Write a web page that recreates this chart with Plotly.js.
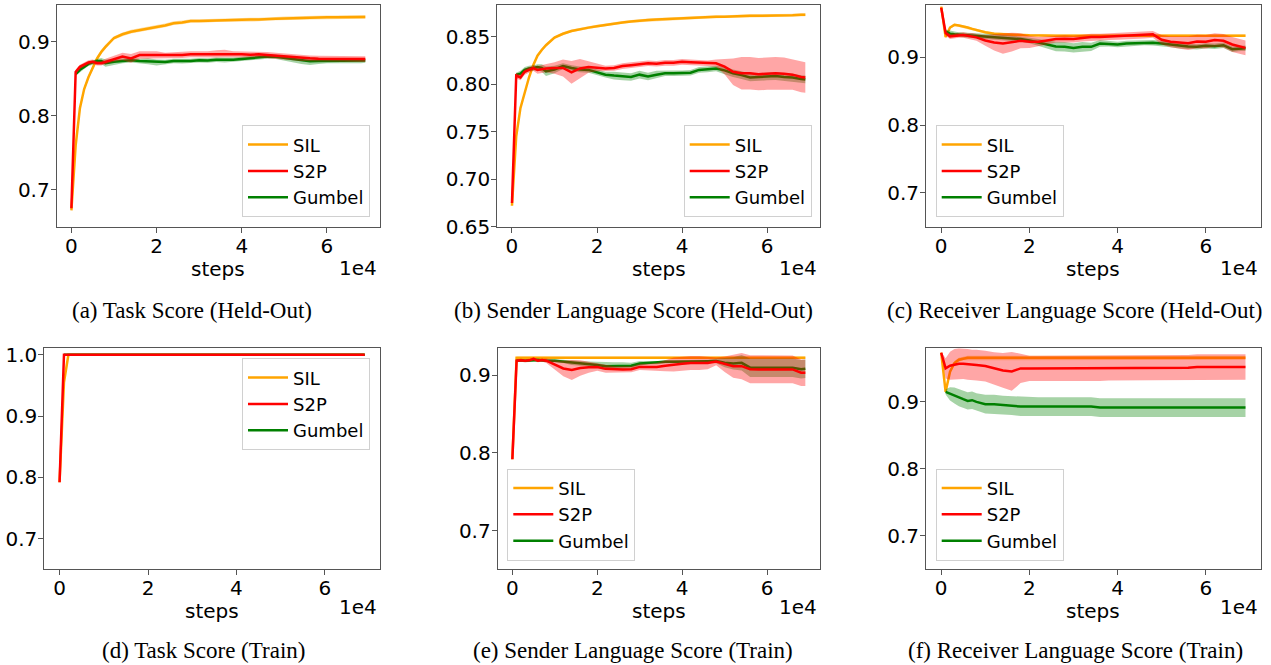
<!DOCTYPE html>
<html><head><meta charset="utf-8">
<script src="https://cdn.plot.ly/plotly-3.0.1.min.js"></script>
<style>html,body{margin:0;padding:0;background:#fff}#chart{width:1271px;height:665px}</style>
</head><body><div id="chart"></div>
<script>
// ---------------- data ----------------
const STEPS = [0,1000,2000,3000,4000,5000,6000,7000,8000,10000,12000,14000,16000,18000,20000,22000,24000,26000,28000,30000,32000,34000,36000,38000,40000,42000,44000,46000,48000,50000,52000,54000,56000,58000,60000,62000,64000,66000,68000,69000];
const SERIES_NAMES = ['SIL','S2P','Gumbel'];
const X_TICK_VALS = [0,20000,40000,60000];
const X_TICK_TEXT = ['0','2','4','6'];

// (a) Task Score (Held-Out)
const A_SIL = [0.672,0.760,0.810,0.836,0.852,0.865,0.877,0.886,0.893,0.905,0.910,0.9135,0.916,0.918,0.920,0.922,0.925,0.926,0.928,0.928,0.9285,0.929,0.929,0.929,0.9295,0.930,0.930,0.931,0.931,0.9315,0.932,0.932,0.9325,0.9325,0.933,0.933,0.933,0.9335,0.9335,0.9335];
const A_SIL_SD = [0.001,0.003,0.003,0.003,0.003,0.003,0.003,0.003,0.003,0.0025,0.0025,0.0025,0.0025,0.0025,0.0025,0.0025,0.0025,0.0025,0.0025,0.0025,0.0025,0.0025,0.0025,0.0025,0.0025,0.0025,0.0025,0.0025,0.0025,0.0025,0.0025,0.0025,0.0025,0.0025,0.0025,0.0025,0.0025,0.0025,0.0025,0.0025];
const A_S2P = [0.675,0.859,0.866,0.8695,0.872,0.873,0.871,0.871,0.873,0.877,0.880,0.8775,0.882,0.882,0.882,0.881,0.882,0.882,0.883,0.883,0.883,0.8835,0.884,0.883,0.883,0.8825,0.883,0.882,0.881,0.880,0.8785,0.878,0.8775,0.877,0.877,0.8765,0.8765,0.8765,0.8765,0.8765];
const A_S2P_SD = [0.001,0.003,0.003,0.003,0.003,0.003,0.003,0.003,0.004,0.004,0.005,0.006,0.005,0.005,0.005,0.004,0.004,0.004,0.004,0.004,0.004,0.005,0.005,0.004,0.004,0.004,0.004,0.004,0.004,0.004,0.004,0.004,0.004,0.004,0.004,0.004,0.004,0.004,0.004,0.004];
const A_GUM = [null,0.856,0.862,0.866,0.870,0.872,0.874,0.874,0.871,0.873,0.874,0.875,0.874,0.8735,0.872,0.8725,0.874,0.8735,0.874,0.875,0.8745,0.8755,0.875,0.8755,0.8765,0.878,0.879,0.880,0.8795,0.878,0.876,0.874,0.8735,0.874,0.874,0.874,0.8745,0.874,0.874,0.8745];
const A_GUM_SD = [null,0.002,0.003,0.003,0.003,0.003,0.003,0.004,0.005,0.004,0.003,0.003,0.003,0.004,0.004,0.003,0.003,0.003,0.003,0.003,0.003,0.003,0.003,0.003,0.003,0.003,0.003,0.003,0.003,0.003,0.004,0.004,0.005,0.004,0.003,0.003,0.003,0.003,0.003,0.003];

// (b) Sender Language Score (Held-Out)
const B_SIL = [0.672,0.745,0.775,0.791,0.807,0.820,0.830,0.836,0.841,0.849,0.853,0.856,0.858,0.8595,0.861,0.8625,0.864,0.865,0.866,0.867,0.8675,0.868,0.8685,0.869,0.869,0.8695,0.870,0.8705,0.871,0.871,0.8715,0.8715,0.872,0.872,0.872,0.8725,0.8725,0.8725,0.873,0.873];
const B_SIL_SD = [0.001,0.0015,0.0015,0.0015,0.0015,0.0015,0.0015,0.0015,0.0015,0.0015,0.0015,0.0015,0.0015,0.0015,0.0015,0.0015,0.0015,0.0015,0.0015,0.0015,0.0015,0.0015,0.0015,0.0015,0.0015,0.0015,0.0015,0.0015,0.0015,0.0015,0.0015,0.0015,0.0015,0.0015,0.0015,0.0015,0.0015,0.0015,0.0015,0.0015];
const B_S2P = [0.675,0.809,0.807,0.813,0.815,0.817,0.815,0.816,0.8165,0.817,0.817,0.8125,0.8165,0.818,0.8175,0.8165,0.817,0.819,0.820,0.821,0.822,0.8215,0.8225,0.8225,0.8235,0.823,0.8225,0.822,0.822,0.8185,0.813,0.8115,0.8115,0.8105,0.811,0.8115,0.811,0.810,0.8075,0.807];
const B_S2P_SD = [0.001,0.003,0.003,0.003,0.003,0.003,0.004,0.004,0.004,0.006,0.009,0.012,0.010,0.006,0.004,0.003,0.003,0.003,0.003,0.003,0.003,0.003,0.003,0.003,0.003,0.003,0.003,0.003,0.004,0.008,0.014,0.017,0.017,0.017,0.017,0.017,0.017,0.016,0.016,0.016];
const B_GUM = [null,0.810,0.811,0.815,0.8165,0.817,0.818,0.817,0.8135,0.8155,0.819,0.817,0.8155,0.815,0.8125,0.810,0.809,0.808,0.8075,0.810,0.808,0.810,0.8115,0.8115,0.8115,0.812,0.815,0.8155,0.8165,0.8145,0.8115,0.8095,0.807,0.8075,0.808,0.8085,0.8075,0.807,0.8055,0.805];
const B_GUM_SD = [null,0.002,0.003,0.003,0.003,0.003,0.003,0.004,0.005,0.004,0.003,0.003,0.003,0.003,0.003,0.003,0.004,0.004,0.004,0.004,0.004,0.004,0.003,0.003,0.003,0.003,0.003,0.003,0.003,0.004,0.004,0.004,0.004,0.004,0.004,0.004,0.004,0.004,0.004,0.004];

// (c) Receiver Language Score (Held-Out)
const C_SIL = [0.975,0.930,0.944,0.948,0.947,0.946,0.944,0.942,0.940,0.937,0.935,0.934,0.933,0.933,0.9325,0.932,0.932,0.932,0.932,0.932,0.932,0.932,0.932,0.932,0.932,0.932,0.932,0.932,0.932,0.932,0.932,0.932,0.932,0.932,0.932,0.932,0.932,0.932,0.932,0.932];
const C_SIL_SD = [0.001,0.002,0.002,0.002,0.002,0.002,0.002,0.002,0.002,0.002,0.002,0.002,0.002,0.002,0.002,0.002,0.002,0.002,0.002,0.002,0.002,0.002,0.002,0.002,0.002,0.002,0.002,0.002,0.002,0.002,0.002,0.002,0.002,0.002,0.002,0.002,0.002,0.002,0.002,0.002];
const C_S2P = [0.9733,0.936,0.931,0.932,0.933,0.933,0.932,0.931,0.9295,0.925,0.922,0.9205,0.9225,0.9245,0.923,0.923,0.925,0.927,0.9275,0.927,0.9285,0.930,0.930,0.9305,0.931,0.932,0.932,0.933,0.934,0.926,0.923,0.922,0.921,0.9235,0.923,0.9255,0.9245,0.919,0.9155,0.914];
const C_S2P_SD = [0.001,0.004,0.004,0.004,0.004,0.004,0.004,0.005,0.005,0.008,0.012,0.015,0.014,0.011,0.009,0.007,0.006,0.005,0.005,0.005,0.005,0.005,0.005,0.005,0.005,0.005,0.005,0.005,0.005,0.007,0.008,0.009,0.010,0.010,0.010,0.010,0.010,0.011,0.011,0.011];
const C_GUM = [null,0.938,0.935,0.934,0.933,0.933,0.9325,0.932,0.9315,0.931,0.930,0.929,0.928,0.927,0.925,0.922,0.919,0.916,0.9155,0.914,0.9155,0.9155,0.9205,0.920,0.919,0.9205,0.921,0.922,0.9215,0.9205,0.919,0.917,0.916,0.9155,0.917,0.9165,0.918,0.912,0.9135,0.9135];
const C_GUM_SD = [null,0.003,0.004,0.004,0.004,0.004,0.004,0.004,0.004,0.004,0.004,0.004,0.004,0.004,0.004,0.005,0.006,0.007,0.007,0.007,0.007,0.006,0.005,0.004,0.004,0.004,0.004,0.004,0.004,0.004,0.004,0.004,0.004,0.004,0.004,0.004,0.004,0.004,0.004,0.004];

// (d) Task Score (Train)
const D_SIL = [0.792,0.955,1.0,1.0,1.0,1.0,1.0,1.0,1.0,1.0,1.0,1.0,1.0,1.0,1.0,1.0,1.0,1.0,1.0,1.0,1.0,1.0,1.0,1.0,1.0,1.0,1.0,1.0,1.0,1.0,1.0,1.0,1.0,1.0,1.0,1.0,1.0,1.0,1.0,1.0];
const D_S2P = [0.792,1.0,1.0,1.0,1.0,1.0,1.0,1.0,1.0,1.0,1.0,1.0,1.0,1.0,1.0,1.0,1.0,1.0,1.0,1.0,1.0,1.0,1.0,1.0,1.0,1.0,1.0,1.0,1.0,1.0,1.0,1.0,1.0,1.0,1.0,1.0,1.0,1.0,1.0,1.0];
const D_GUM = [null,1.0,1.0,1.0,1.0,1.0,1.0,1.0,1.0,1.0,1.0,1.0,1.0,1.0,1.0,1.0,1.0,1.0,1.0,1.0,1.0,1.0,1.0,1.0,1.0,1.0,1.0,1.0,1.0,1.0,1.0,1.0,1.0,1.0,1.0,1.0,1.0,1.0,1.0,1.0];

// (e) Sender Language Score (Train)
const E_SIL = [0.792,0.9228,0.9228,0.9228,0.9228,0.9228,0.9228,0.9228,0.9228,0.9228,0.9228,0.9228,0.9228,0.9228,0.9228,0.9228,0.9228,0.9228,0.9228,0.9228,0.9228,0.9228,0.9228,0.9228,0.9228,0.9228,0.9228,0.9228,0.9228,0.9228,0.9228,0.9228,0.9228,0.9228,0.9228,0.9228,0.9228,0.9228,0.9228,0.9228];
const E_SIL_SD = [0,0.0015,0.0015,0.0015,0.0015,0.0015,0.0015,0.0015,0.0015,0.0015,0.0015,0.0015,0.0015,0.0015,0.0015,0.0015,0.0015,0.0015,0.0015,0.0015,0.0015,0.0015,0.0015,0.0015,0.0015,0.0015,0.0015,0.0015,0.0015,0.0015,0.0015,0.0015,0.0015,0.0015,0.0015,0.0015,0.0015,0.0015,0.0015,0.0015];
const E_S2P = [0.792,0.919,0.9195,0.919,0.9195,0.9215,0.919,0.920,0.919,0.9135,0.909,0.907,0.9095,0.9105,0.911,0.9085,0.908,0.9078,0.908,0.911,0.911,0.911,0.9125,0.914,0.915,0.916,0.916,0.916,0.918,0.9145,0.912,0.912,0.908,0.9078,0.9078,0.9078,0.9078,0.9078,0.9035,0.9035];
const E_S2P_SD = [0.001,0.002,0.002,0.002,0.002,0.002,0.002,0.002,0.003,0.006,0.010,0.013,0.010,0.007,0.005,0.005,0.004,0.004,0.004,0.004,0.004,0.005,0.007,0.009,0.009,0.009,0.009,0.008,0.005,0.010,0.015,0.017,0.018,0.018,0.018,0.018,0.018,0.018,0.017,0.017];
const E_GUM = [null,0.919,0.9195,0.919,0.919,0.9195,0.920,0.9195,0.919,0.919,0.918,0.9165,0.9155,0.915,0.9135,0.912,0.912,0.912,0.9125,0.9155,0.9163,0.9163,0.9176,0.9176,0.9176,0.9176,0.918,0.9183,0.9186,0.9165,0.9155,0.9163,0.910,0.910,0.910,0.910,0.910,0.910,0.908,0.9087];
const E_GUM_SD = [null,0.001,0.002,0.002,0.002,0.002,0.002,0.002,0.002,0.002,0.002,0.003,0.003,0.003,0.004,0.005,0.005,0.005,0.004,0.003,0.002,0.002,0.002,0.002,0.002,0.002,0.002,0.002,0.003,0.006,0.008,0.010,0.012,0.012,0.012,0.012,0.012,0.012,0.012,0.012];

// (f) Receiver Language Score (Train)
const F_SIL = [0.9734,0.915,0.945,0.958,0.963,0.965,0.966,0.966,0.966,0.966,0.966,0.966,0.966,0.966,0.966,0.966,0.966,0.966,0.966,0.966,0.966,0.966,0.966,0.966,0.966,0.966,0.966,0.966,0.966,0.966,0.966,0.966,0.966,0.966,0.966,0.966,0.966,0.966,0.966,0.966];
const F_SIL_SD = [0.001,0.002,0.003,0.003,0.003,0.003,0.003,0.003,0.003,0.003,0.003,0.003,0.003,0.003,0.003,0.003,0.003,0.003,0.003,0.003,0.003,0.003,0.003,0.003,0.003,0.003,0.003,0.003,0.003,0.003,0.003,0.003,0.003,0.003,0.003,0.003,0.003,0.003,0.003,0.003];
const F_S2P = [0.9734,0.950,0.954,0.956,0.957,0.957,0.956,0.955,0.955,0.9535,0.950,0.947,0.9455,0.950,0.950,0.950,0.950,0.950,0.950,0.950,0.950,0.950,0.950,0.951,0.951,0.951,0.951,0.951,0.951,0.951,0.951,0.951,0.951,0.952,0.952,0.952,0.952,0.952,0.952,0.952];
const F_S2P_SD = [0.001,0.015,0.021,0.023,0.023,0.023,0.023,0.023,0.023,0.023,0.024,0.026,0.029,0.022,0.019,0.019,0.019,0.019,0.019,0.019,0.019,0.019,0.019,0.019,0.019,0.019,0.019,0.019,0.019,0.019,0.019,0.019,0.019,0.019,0.019,0.019,0.019,0.019,0.019,0.019];
const F_GUM = [null,0.915,0.912,0.9095,0.9065,0.904,0.9015,0.9025,0.900,0.8965,0.8965,0.895,0.8945,0.893,0.893,0.893,0.893,0.893,0.893,0.893,0.893,0.893,0.8915,0.8915,0.8915,0.8915,0.8915,0.8915,0.8915,0.8915,0.8915,0.8915,0.8915,0.8915,0.8915,0.8915,0.8915,0.8915,0.8915,0.8915];
const F_GUM_SD = [null,0.004,0.010,0.012,0.013,0.013,0.013,0.013,0.013,0.014,0.014,0.014,0.014,0.014,0.014,0.014,0.014,0.014,0.014,0.014,0.014,0.014,0.014,0.014,0.014,0.014,0.014,0.014,0.014,0.014,0.014,0.014,0.014,0.014,0.014,0.014,0.014,0.014,0.014,0.014];

const CAPTIONS = ['(a) Task Score (Held-Out)','(b) Sender Language Score (Held-Out)','(c) Receiver Language Score (Held-Out)','(d) Task Score (Train)','(e) Sender Language Score (Train)','(f) Receiver Language Score (Train)'];
const Y_TICKS_A = [0.7,0.8,0.9];
const Y_TICKS_B = [0.65,0.70,0.75,0.80,0.85];
const Y_TICKS_D = [0.7,0.8,0.9,1.0];

// ---------------- layout helpers (style only) ----------------
const W = 1271, H = 665;
const px = v => v / W, py = v => 1 - v / H;
const COLORS = {SIL:'#FFA500', S2P:'#FF0000', Gumbel:'#008000'};
const FILLS = {SIL:'rgba(255,165,0,0.35)', S2P:'rgba(255,0,0,0.35)', Gumbel:'rgba(0,128,0,0.35)'};
const RANK = {SIL:1, S2P:2, Gumbel:3};
const DRAW_ORDER = ['SIL','Gumbel','S2P'];

const panels = [
  {data:{SIL:[A_SIL,A_SIL_SD],S2P:[A_S2P,A_S2P_SD],Gumbel:[A_GUM,A_GUM_SD]}, box:[56.7,380,5,226.7], yr:[0.65,0.9496], yt:Y_TICKS_A, yfmt:'.1f',
   leg:{x:px(370),y:py(217.3),xanchor:'right',yanchor:'bottom'}, cap:192},
  {data:{SIL:[B_SIL,B_SIL_SD],S2P:[B_S2P,B_S2P_SD],Gumbel:[B_GUM,B_GUM_SD]}, box:[497.3,820,5,226.7], yr:[0.65,0.8833], yt:Y_TICKS_B, yfmt:'.2f',
   leg:{x:px(811.7),y:py(217.3),xanchor:'right',yanchor:'bottom'}, cap:633},
  {data:{SIL:[C_SIL,C_SIL_SD],S2P:[C_S2P,C_S2P_SD],Gumbel:[C_GUM,C_GUM_SD]}, box:[926,1260.7,5,226.7], yr:[0.65,0.9773], yt:Y_TICKS_A, yfmt:'.1f',
   leg:{x:px(935.7),y:py(217.3),xanchor:'left',yanchor:'bottom'}, cap:1074},
  {data:{SIL:[D_SIL,null],S2P:[D_S2P,null],Gumbel:[D_GUM,null]}, box:[44.3,380,348.3,569.3], yr:[0.65,1.0104], yt:Y_TICKS_D, yfmt:'.1f',
   leg:{x:px(370),y:py(358.3),xanchor:'right',yanchor:'top'}, cap:203},
  {data:{SIL:[E_SIL,E_SIL_SD],S2P:[E_S2P,E_S2P_SD],Gumbel:[E_GUM,E_GUM_SD]}, box:[497.7,820,348.3,569.3], yr:[0.65,0.935], yt:Y_TICKS_A, yfmt:'.1f',
   leg:{x:px(507.3),y:py(560.7),xanchor:'left',yanchor:'bottom'}, cap:633},
  {data:{SIL:[F_SIL,F_SIL_SD],S2P:[F_S2P,F_S2P_SD],Gumbel:[F_GUM,F_GUM_SD]}, box:[926,1260.7,348.3,569.3], yr:[0.65,0.98], yt:Y_TICKS_A, yfmt:'.1f',
   leg:{x:px(935.7),y:py(560.7),xanchor:'left',yanchor:'bottom'}, cap:1075}
];

const traces = [];
const layout = {
  width: W, height: H, margin:{l:0,r:0,t:0,b:0},
  paper_bgcolor:'#fff', plot_bgcolor:'#fff', showlegend:true,
  font:{family:'DejaVu Sans', color:'#000'},
  annotations:[]
};
const axisStyle = {showline:true, mirror:true, linecolor:'#555', linewidth:1, ticks:'outside', ticklen:5, tickwidth:1, tickcolor:'#555',
  showgrid:false, zeroline:false, fixedrange:true, tickfont:{family:'DejaVu Sans', size:20, color:'#000'}};

panels.forEach((p, i) => {
  const n = i + 1, sfx = n === 1 ? '' : String(n);
  const xa = 'x' + sfx, ya = 'y' + sfx, lg = 'legend' + sfx;
  DRAW_ORDER.forEach(name => {
    const [mean, sd] = p.data[name];
    const xs = [], ys = [], lo = [], hi = [];
    STEPS.forEach((s, k) => {
      if (mean[k] === null) return;
      xs.push(s); ys.push(mean[k]);
      const d = sd ? sd[k] : 0;
      lo.push(mean[k] - d); hi.push(mean[k] + d);
    });
    if (sd) {
      traces.push({x: xs.concat(xs.slice().reverse()), y: hi.concat(lo.slice().reverse()), xaxis:xa, yaxis:ya,
        type:'scatter', mode:'lines', fill:'toself', fillcolor:FILLS[name], line:{width:0, color:FILLS[name]},
        hoverinfo:'skip', showlegend:false, legend:lg});
    }
    traces.push({x: xs, y: ys, xaxis:xa, yaxis:ya, type:'scatter', mode:'lines', name:name,
      line:{color:COLORS[name], width:2.5}, legend:lg, legendrank:RANK[name], showlegend:true});
  });
  const [x0, x1, y0, y1] = p.box;
  layout['xaxis' + sfx] = Object.assign({}, axisStyle, {domain:[px(x0), px(x1)], range:[-3450, 72450], anchor:ya,
    tickmode:'array', tickvals:X_TICK_VALS, ticktext:X_TICK_TEXT, ticklabelstandoff:-4});
  layout['yaxis' + sfx] = Object.assign({}, axisStyle, {domain:[py(y1), py(y0)], range:p.yr, anchor:xa,
    tickmode:'array', tickvals:p.yt, tickformat:p.yfmt, ticklabelstandoff:-3});
  layout[lg] = Object.assign({}, p.leg, {bgcolor:'rgba(255,255,255,0.8)', bordercolor:'#d0d0d0', borderwidth:1,
    font:{family:'DejaVu Sans', size:18, color:'#000'}, tracegroupgap:0, itemwidth:40});
  const row = i < 3 ? 0 : 1;
  layout.annotations.push({text:'steps', xref:'paper', yref:'paper', x:px((x0 + x1) / 2), y:py(row ? 611 : 269),
    xanchor:'center', yanchor:'middle', showarrow:false, font:{family:'DejaVu Sans', size:20, color:'#000'}});
  layout.annotations.push({text:'1e4', xref:'paper', yref:'paper', x:px(x1 - 1), y:py(row ? 607 : 268),
    xanchor:'right', yanchor:'middle', showarrow:false, font:{family:'DejaVu Sans', size:20, color:'#000'}});
  layout.annotations.push(row ?
    {text:CAPTIONS[i], xref:'paper', yref:'paper', x:px(p.cap), y:0, xanchor:'center', yanchor:'bottom', showarrow:false,
     font:{family:'Liberation Serif', size:23, color:'#000'}} :
    {text:CAPTIONS[i], xref:'paper', yref:'paper', x:px(p.cap), y:py(310), xanchor:'center', yanchor:'middle', showarrow:false,
     font:{family:'Liberation Serif', size:23, color:'#000'}});
});

Plotly.newPlot('chart', traces, layout, {staticPlot:true, displayModeBar:false});
</script>
</body></html>
